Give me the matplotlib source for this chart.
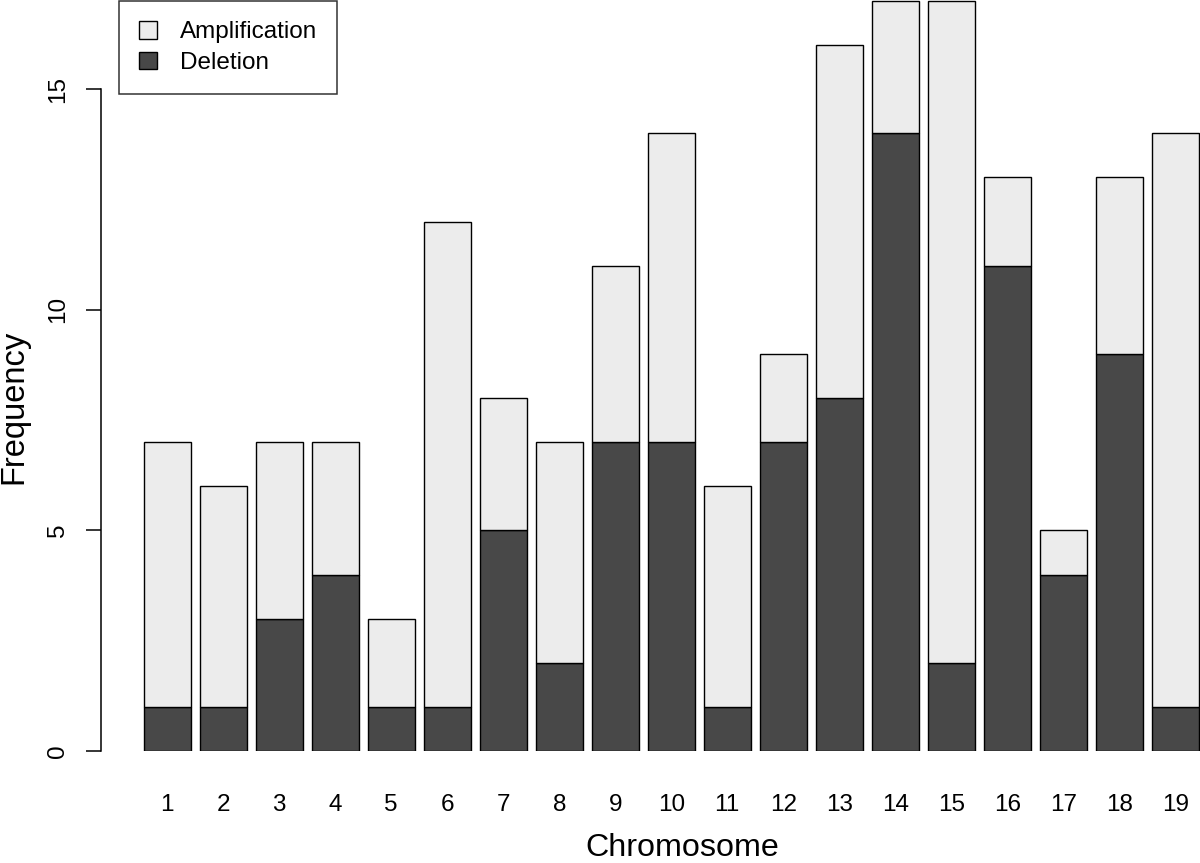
import matplotlib
matplotlib.use("Agg")
import matplotlib.pyplot as plt
from matplotlib.patches import Patch
import numpy as np

chromosomes = [str(i) for i in range(1, 20)]
deletion = [1, 1, 3, 4, 1, 1, 5, 2, 7, 7, 1, 7, 8, 14, 2, 11, 4, 9, 1]
total = [7, 6, 7, 7, 3, 12, 8, 7, 11, 14, 6, 9, 16, 17, 17, 13, 5, 13, 14]
amplification = [t - d for t, d in zip(total, deletion)]
yticks = [0, 5, 10, 15]

plt.rcParams['font.family'] = ['Liberation Sans', 'DejaVu Sans']

W, H = 1200, 863
fig = plt.figure(figsize=(W / 100, H / 100), dpi=100)
ax = fig.add_axes([101 / W, (H - 751) / H, 1099 / W, 751 / H])

x = 0.7 + 1.2 * np.arange(len(chromosomes))
dark = '#484848'
light = '#ececec'
ax.bar(x, deletion, width=1.0, color=dark, edgecolor='black', linewidth=1.0)
ax.bar(x, amplification, width=1.0, bottom=deletion, color=light,
       edgecolor='black', linewidth=1.0)

ax.set_xlim(-0.7185, 22.83)
ax.set_ylim(0, 17.02)

for s in ['top', 'right', 'bottom']:
    ax.spines[s].set_visible(False)
ax.spines['left'].set_bounds(0, 15)
ax.spines['left'].set_linewidth(1.1)

ax.set_yticks(yticks)
ax.set_yticklabels([str(v) for v in yticks], rotation=90, va='center', fontsize=17.5)
ax.tick_params(axis='y', length=10.8, width=1.1, pad=12.5)
ax.set_xticks(x)
ax.set_xticklabels(chromosomes, fontsize=17.5)
ax.tick_params(axis='x', length=0, pad=31)

fig.text(14 / W, 1 - 407 / H, 'Frequency', rotation=90, ha='center', va='center', fontsize=23.5)
fig.text(682 / W, 1 - 856 / H, 'Chromosome', ha='center', va='baseline', fontsize=23.2)

handles = [Patch(facecolor=light, edgecolor='black', linewidth=1.0),
           Patch(facecolor=dark, edgecolor='black', linewidth=1.0)]
leg = ax.legend(handles, ['Amplification', 'Deletion'], loc='upper left',
                bbox_to_anchor=(119 / W, 1 - 1 / H), bbox_transform=fig.transFigure,
                fontsize=17.5, frameon=True, fancybox=False, borderaxespad=0,
                handlelength=0.74, handleheight=0.74, handletextpad=0.95,
                labelspacing=0.35, borderpad=0.82)
leg.get_frame().set_edgecolor('black')
leg.get_frame().set_linewidth(1.1)

fig.savefig('out.png', dpi=100)
